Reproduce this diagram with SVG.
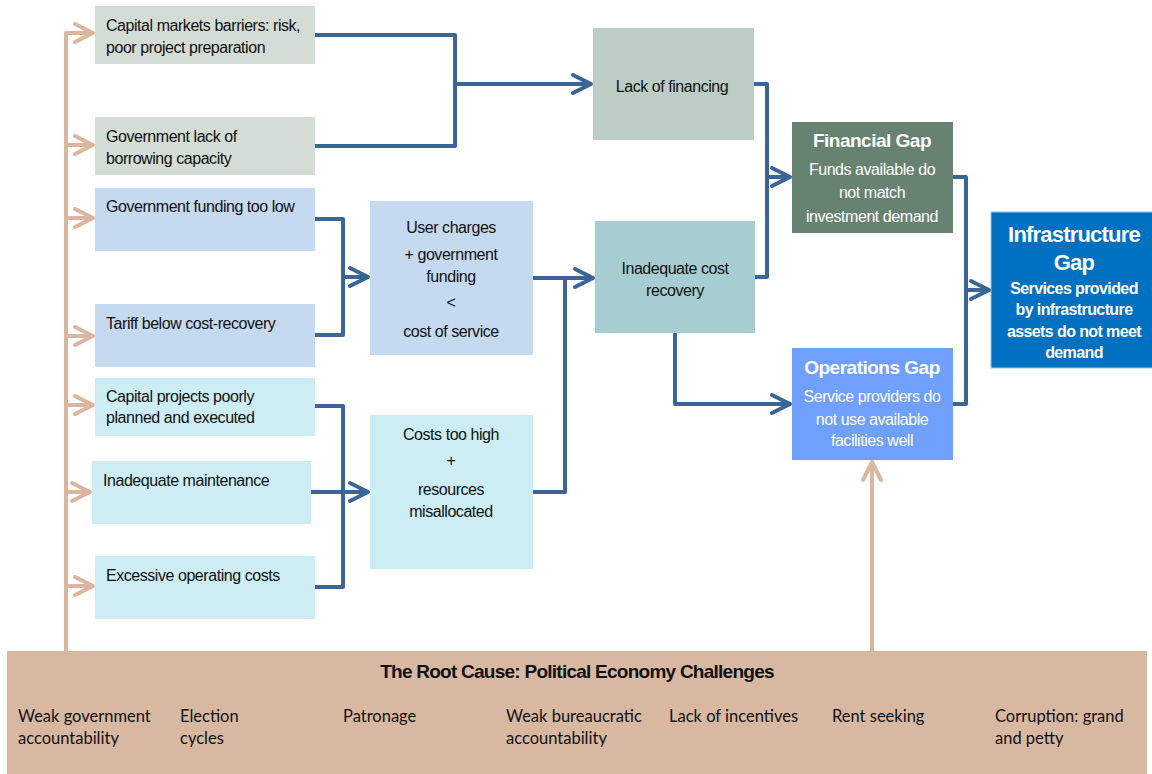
<svg xmlns="http://www.w3.org/2000/svg" width="1152" height="774" viewBox="0 0 1152 774">
<style>
.t{font-family:"Liberation Sans Narrow","Liberation Sans",Arial,sans-serif;font-size:16px;letter-spacing:-0.45px;fill:#111}
.c{text-anchor:middle}
.w{fill:#fff}
.b{font-weight:bold}
.h{font-size:19px;letter-spacing:-0.5px}
.hb{font-size:22px;letter-spacing:-0.8px}
.sb{letter-spacing:-0.6px}
.cal{font-family:Lato,"Open Sans","Liberation Sans",sans-serif;font-size:16.5px;fill:#111}
.blue{fill:none;stroke:#3b6497;stroke-width:4;stroke-linejoin:round}
.tan{fill:none;stroke:#dbb69f;stroke-width:4;stroke-linejoin:round}
</style>
<defs>
<marker id="ab" markerUnits="userSpaceOnUse" viewBox="-22 -12 26 24" markerWidth="26" markerHeight="24" refX="0" refY="0" orient="auto"><path d="M-18,-9 L0,0 L-18,9" fill="none" stroke="#3b6497" stroke-width="4" stroke-linejoin="round" stroke-linecap="round"/></marker>
<marker id="at" markerUnits="userSpaceOnUse" viewBox="-22 -12 26 24" markerWidth="26" markerHeight="24" refX="0" refY="0" orient="auto"><path d="M-18,-9 L0,0 L-18,9" fill="none" stroke="#dbb69f" stroke-width="4" stroke-linejoin="round" stroke-linecap="round"/></marker>
</defs>
<rect width="1152" height="774" fill="#fff"/>

<g id="n-capital-markets"><rect x="95" y="6" width="220" height="58" fill="#d3ddd6"/><text class="t" x="106" y="31">Capital markets barriers: risk,</text><text class="t" x="106" y="53">poor project preparation</text></g>
<g id="n-gov-borrowing"><rect x="95" y="117" width="220" height="58" fill="#d3ddd6"/><text class="t" x="106" y="142">Government lack of</text><text class="t" x="106" y="164">borrowing capacity</text></g>
<g id="n-gov-funding"><rect x="95" y="188" width="220" height="63" fill="#c5d9f1"/><text class="t" x="106" y="212">Government funding too low</text></g>
<g id="n-tariff"><rect x="95" y="304" width="220" height="63" fill="#c5d9f1"/><text class="t" x="106" y="329">Tariff  below cost-recovery</text></g>
<g id="n-capital-projects"><rect x="95" y="378" width="220" height="58" fill="#ccedf4"/><text class="t" x="106" y="402">Capital projects poorly</text><text class="t" x="106" y="423">planned and executed</text></g>
<g id="n-maintenance"><rect x="92" y="461" width="219" height="63" fill="#ccedf4"/><text class="t" x="103" y="486">Inadequate maintenance</text></g>
<g id="n-operating"><rect x="95" y="556" width="220" height="63" fill="#ccedf4"/><text class="t" x="106" y="581">Excessive operating costs</text></g>

<g id="n-user-charges"><rect x="370" y="201" width="163" height="154" fill="#c5d9f1"/>
<text class="t c" x="451" y="233">User charges</text><text class="t c" x="451" y="260">+ government</text><text class="t c" x="451" y="282">funding</text><text class="t c" x="451" y="308">&lt;</text><text class="t c" x="451" y="337">cost of service</text></g>
<g id="n-costs-high"><rect x="370" y="415" width="163" height="154" fill="#ccedf4"/>
<text class="t c" x="451" y="440">Costs too high</text><text class="t c" x="451" y="466">+</text><text class="t c" x="451" y="495">resources</text><text class="t c" x="451" y="517">misallocated</text></g>

<g id="n-lack-financing"><rect x="593" y="28" width="161" height="112" fill="#bccdc6"/><text class="t c" x="672" y="92">Lack of financing</text></g>
<g id="n-inadequate-cost"><rect x="595" y="221" width="160" height="112" fill="#a6cdd1"/><text class="t c" x="675" y="274">Inadequate cost</text><text class="t c" x="675" y="296">recovery</text></g>

<g id="n-financial-gap"><rect x="792" y="122" width="161" height="111" fill="#688272"/>
<text class="t c w b h" x="872" y="147">Financial Gap</text>
<text class="t c w" x="872" y="175">Funds available do</text><text class="t c w" x="872" y="198">not match</text><text class="t c w" x="872" y="222">investment demand</text></g>
<g id="n-operations-gap"><rect x="792" y="348" width="161" height="112" fill="#6fa0fe"/>
<text class="t c w b h" x="872" y="374">Operations Gap</text>
<text class="t c w" x="872" y="402">Service providers do</text><text class="t c w" x="872" y="425">not use available</text><text class="t c w" x="872" y="446">facilities well</text></g>

<g id="n-infrastructure-gap"><rect x="991" y="212" width="162" height="156" fill="#0070c0" stroke="#9dc3e6" stroke-width="1"/>
<text class="t c w b hb" x="1074" y="242">Infrastructure</text>
<text class="t c w b hb" x="1074" y="270">Gap</text>
<text class="t c w b sb" x="1074" y="294">Services provided</text><text class="t c w b sb" x="1074" y="315">by infrastructure</text><text class="t c w b sb" x="1074" y="337">assets  do not meet</text><text class="t c w b sb" x="1074" y="358">demand</text></g>

<g id="n-root-cause"><rect x="7" y="651" width="1140" height="123" fill="#d9b8a2"/>
<text class="t c b" x="577" y="678" style="font-size:19px;letter-spacing:-0.75px">The Root Cause: Political Economy Challenges</text>
<text class="cal" x="18" y="722">Weak government</text><text class="cal" x="18" y="744">accountability</text>
<text class="cal" x="180" y="722">Election</text><text class="cal" x="180" y="744">cycles</text>
<text class="cal" x="343" y="722">Patronage</text>
<text class="cal" x="506" y="722">Weak bureaucratic</text><text class="cal" x="506" y="744">accountability</text>
<text class="cal" x="669" y="722">Lack of incentives</text>
<text class="cal" x="832" y="722">Rent seeking</text>
<text class="cal" x="995" y="722">Corruption:  grand</text><text class="cal" x="995" y="744">and petty</text></g>

<g id="connectors">
<path class="blue" d="M315,35 H455 V146 H315"/>
<path class="blue" d="M455,84 H591" marker-end="url(#ab)"/>
<path class="blue" d="M754,84 H767 V277 H755"/>
<path class="blue" d="M767,177 H790" marker-end="url(#ab)"/>
<path class="blue" d="M315,219 H343 V335 H315"/>
<path class="blue" d="M343,277 H368" marker-end="url(#ab)"/>
<path class="blue" d="M315,406 H343 V587 H315"/>
<path class="blue" d="M311,492 H368" marker-end="url(#ab)"/>
<path class="blue" d="M533,278 H593" marker-end="url(#ab)"/>
<path class="blue" d="M533,492 H565 V278"/>
<path class="blue" d="M675,333 V404 H790" marker-end="url(#ab)"/>
<path class="blue" d="M953,177 H966 V404 H953"/>
<path class="blue" d="M966,290 H989" marker-end="url(#ab)"/>
<path class="tan" d="M66,651 V33 H93" marker-end="url(#at)"/>
<path class="tan" d="M66,145 H93" marker-end="url(#at)"/>
<path class="tan" d="M66,218 H93" marker-end="url(#at)"/>
<path class="tan" d="M66,336 H93" marker-end="url(#at)"/>
<path class="tan" d="M66,405 H93" marker-end="url(#at)"/>
<path class="tan" d="M66,492 H90" marker-end="url(#at)"/>
<path class="tan" d="M66,586 H93" marker-end="url(#at)"/>
<path class="tan" d="M872,651 V462" marker-end="url(#at)"/>
</g>
</svg>
